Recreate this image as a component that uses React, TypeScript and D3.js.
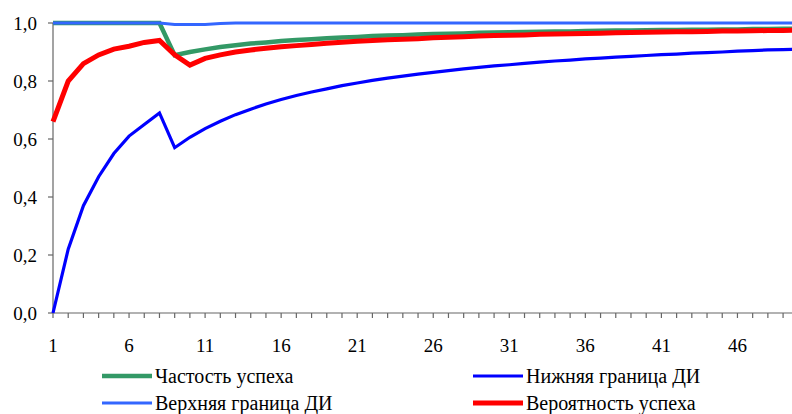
import * as d3 from "d3";

// trials 1..50 (chart is cut off on the right after ~49)
const trials = d3.range(1, 51);

const frequency = [
  1, 1, 1, 1, 1, 1, 1, 1, 0.889, 0.9,
  0.909, 0.917, 0.923, 0.929, 0.933, 0.938, 0.941, 0.944, 0.947, 0.95,
  0.952, 0.955, 0.957, 0.958, 0.96, 0.962, 0.963, 0.964, 0.966, 0.967,
  0.968, 0.969, 0.97, 0.971, 0.971, 0.972, 0.973, 0.974, 0.974, 0.975,
  0.976, 0.976, 0.977, 0.977, 0.978, 0.978, 0.979, 0.979, 0.98, 0.98,
];

const lowerCI = [
  0, 0.22, 0.37, 0.47, 0.55, 0.61, 0.65, 0.69, 0.57, 0.606,
  0.636, 0.661, 0.684, 0.703, 0.721, 0.736, 0.75, 0.762, 0.773, 0.784,
  0.793, 0.802, 0.81, 0.817, 0.824, 0.83, 0.836, 0.842, 0.847, 0.852,
  0.856, 0.861, 0.865, 0.869, 0.872, 0.876, 0.879, 0.882, 0.885, 0.888,
  0.891, 0.893, 0.896, 0.898, 0.9, 0.903, 0.905, 0.907, 0.908, 0.91,
];

const upperCI = [
  1, 1, 1, 1, 1, 1, 1, 1, 0.995, 0.995,
  0.995, 0.998, 1, 1, 1, 1, 1, 1, 1, 1,
  1, 1, 1, 1, 1, 1, 1, 1, 1, 1,
  1, 1, 1, 1, 1, 1, 1, 1, 1, 1,
  1, 1, 1, 1, 1, 1, 1, 1, 1, 1,
];

const probability = [
  0.66, 0.8, 0.86, 0.89, 0.91, 0.92, 0.933, 0.94, 0.89, 0.855,
  0.878, 0.89, 0.9, 0.907, 0.913, 0.918, 0.922, 0.926, 0.93, 0.934,
  0.937, 0.94, 0.942, 0.944, 0.946, 0.949, 0.951, 0.953, 0.955, 0.957,
  0.958, 0.959, 0.961, 0.962, 0.963, 0.964, 0.965, 0.966, 0.967, 0.968,
  0.969, 0.97, 0.97, 0.971, 0.972, 0.972, 0.973, 0.974, 0.974, 0.975,
];

const yTicks = [0, 0.2, 0.4, 0.6, 0.8, 1.0];
const xLabels = [1, 6, 11, 16, 21, 26, 31, 36, 41, 46];

const series = [
  { name: "Частость успеха", values: frequency, color: "#339966", width: 4.5 },
  { name: "Нижняя граница ДИ", values: lowerCI, color: "#0000FF", width: 3.2 },
  { name: "Верхняя граница ДИ", values: upperCI, color: "#3366FF", width: 3 },
  { name: "Вероятность успеха", values: probability, color: "#FF0000", width: 5 },
];

const width = 792;
const height = 414;
const marginLeft = 53;
const step = 15.21;
const yTop = 23;
const yBottom = 313;
const axisColor = "#666";
const fontStyle = { fontFamily: '"Times New Roman", "Liberation Serif", "DejaVu Serif", "Noto Serif", FreeSerif, Times, serif' };

export default function App() {
  const x = d3.scaleLinear([1, 50], [marginLeft, marginLeft + 49 * step]);
  const y = d3.scaleLinear([0, 1], [yBottom, yTop]);
  const line = d3.line<number>((d, i) => x(trials[i]), (d) => y(d));

  // legend: 2 columns, Excel order
  const legendPos = [
    { x: 102, y: 376 },
    { x: 473, y: 376 },
    { x: 102, y: 403 },
    { x: 473, y: 403 },
  ];

  return (
    <div style={{ position: "absolute", left: 0, top: 0 }}>
      <svg width={width} height={height} style={{ display: "block", background: "#fff" }}>
        {/* y axis */}
        <line x1={marginLeft} x2={marginLeft} y1={yTop} y2={yBottom} stroke={axisColor} strokeWidth={1.2} />
        {yTicks.map((t) => (
          <g key={t}>
            <line x1={marginLeft - 5} x2={marginLeft} y1={y(t)} y2={y(t)} stroke={axisColor} strokeWidth={1.2} />
            <text x={37} y={y(t)} dy="0.35em" textAnchor="end" style={fontStyle} fontSize={19} fill="#000">
              {t.toFixed(1).replace(".", ",")}
            </text>
          </g>
        ))}
        {/* x axis */}
        <line x1={marginLeft} x2={width} y1={yBottom} y2={yBottom} stroke={axisColor} strokeWidth={1.2} />
        {trials.map((t) => (
          <line key={t} x1={x(t)} x2={x(t)} y1={yBottom} y2={yBottom + 5} stroke={axisColor} strokeWidth={1.2} />
        ))}
        {xLabels.map((t) => (
          <text key={t} x={x(t)} y={352} textAnchor="middle" style={fontStyle} fontSize={19} fill="#000">
            {t}
          </text>
        ))}
        {/* lines */}
        {series.map((s) => (
          <path key={s.name} d={line(s.values) ?? ""} fill="none" stroke={s.color}
            strokeWidth={s.width} strokeLinejoin="miter" />
        ))}
        {/* legend */}
        {series.map((s, i) => (
          <g key={s.name} transform={`translate(${legendPos[i].x},${legendPos[i].y})`}>
            <line x1={0} x2={50} y1={0} y2={0} stroke={s.color} strokeWidth={s.width} />
            <text x={53} y={0} dy="0.35em" style={fontStyle} fontSize={20} fill="#000">
              {s.name}
            </text>
          </g>
        ))}
      </svg>
    </div>
  );
}
